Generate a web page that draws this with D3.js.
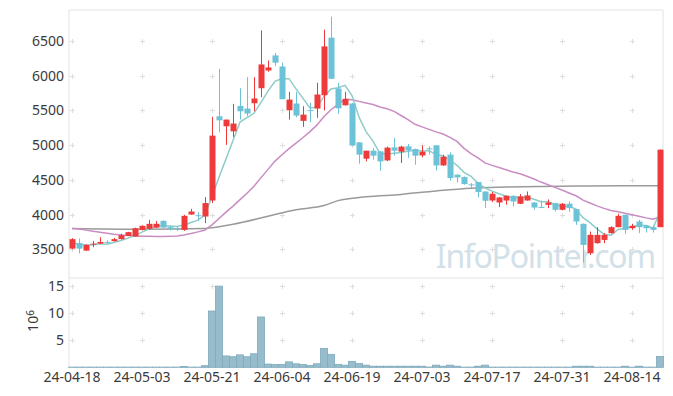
<!DOCTYPE html>
<html>
<head>
<meta charset="utf-8">
<script src="https://cdn.jsdelivr.net/npm/d3@7"></script>
<style>
  body { margin: 0; background: #fff; }
  svg text { font-family: "Noto Sans", "Open Sans", sans-serif; }
</style>
</head>
<body>
<div id="hook-chart"></div>
<script>
'use strict';

var dates = ['24-04-18','24-04-19','24-04-22','24-04-23','24-04-24','24-04-25','24-04-26','24-04-29','24-04-30','24-05-02',
  '24-05-03','24-05-07','24-05-08','24-05-09','24-05-10','24-05-13','24-05-14','24-05-16','24-05-17','24-05-20',
  '24-05-21','24-05-22','24-05-23','24-05-24','24-05-27','24-05-28','24-05-29','24-05-30','24-05-31','24-06-03',
  '24-06-04','24-06-05','24-06-07','24-06-10','24-06-11','24-06-12','24-06-13','24-06-14','24-06-17','24-06-18',
  '24-06-19','24-06-20','24-06-21','24-06-24','24-06-25','24-06-26','24-06-27','24-06-28','24-07-01','24-07-02',
  '24-07-03','24-07-04','24-07-05','24-07-08','24-07-09','24-07-10','24-07-11','24-07-12','24-07-15','24-07-16',
  '24-07-17','24-07-18','24-07-19','24-07-22','24-07-23','24-07-24','24-07-25','24-07-26','24-07-29','24-07-30',
  '24-07-31','24-08-01','24-08-02','24-08-05','24-08-06','24-08-07','24-08-08','24-08-09','24-08-12','24-08-13',
  '24-08-14','24-08-16','24-08-19','24-08-20','24-08-21'];

var opens = [3509,3587,3480,3570,3581,3605,3616,3645,3692,3682,
  3779,3793,3812,3909,3818,3795,3779,4000,3990,3971,
  4202,5416,5272,5199,5566,5527,5604,5820,6076,6293,
  6134,5503,5600,5350,5505,5527,5720,6549,5816,5575,
  5600,5040,4805,4920,4910,4780,4968,4906,4983,4944,
  4852,4954,4997,4708,4863,4574,4540,4435,4468,4332,
  4202,4173,4202,4270,4155,4202,4173,4110,4140,4165,
  4068,4155,4078,3866,3442,3587,3634,3731,3818,3996,
  3803,3899,3841,3818,3818];

var highs = [3659,3653,3570,3620,3673,3630,3663,3725,3750,3810,
  3845,3923,3905,3915,3841,3827,3996,4082,4035,4251,
  5407,6101,5368,5595,5820,5980,5980,6654,6221,6327,
  6188,5769,5769,5561,5610,5899,6664,6852,5899,5769,
  5610,5045,4920,4959,4915,4980,5104,4993,5017,4950,
  4993,4983,5000,4862,4896,4580,4550,4454,4470,4335,
  4324,4250,4275,4275,4295,4332,4178,4202,4217,4170,
  4165,4188,4080,3870,3754,3818,3731,3830,4010,4000,
  3866,3923,3845,3841,4935];

var lows = [3500,3442,3475,3529,3575,3580,3610,3640,3690,3680,
  3770,3779,3805,3805,3769,3765,3765,3996,3909,3876,
  4165,5185,5003,5118,5368,5416,5488,5691,6058,6139,
  5662,5368,5402,5263,5330,5393,5499,5957,5451,5570,
  4990,4733,4766,4790,4631,4770,4848,4743,4815,4718,
  4824,4863,4636,4700,4487,4462,4430,4381,4246,4092,
  4179,4107,4140,4116,4150,4200,4068,4092,4092,4043,
  4060,4039,3851,3306,3418,3580,3587,3725,3815,3721,
  3779,3731,3740,3740,3818];

var closes = [3645,3509,3562,3580,3605,3598,3645,3702,3746,3803,
  3837,3866,3866,3812,3795,3790,3981,4043,3982,4165,
  5137,5358,5368,5311,5488,5455,5672,6163,6120,6188,
  5662,5657,5426,5440,5495,5730,6423,5957,5531,5667,
  4997,4863,4920,4848,4766,4964,4920,4978,4925,4848,
  4906,4944,4708,4834,4526,4535,4439,4425,4324,4198,
  4299,4246,4270,4188,4260,4275,4101,4105,4173,4068,
  4155,4092,3899,3562,3707,3707,3707,3818,3981,3779,
  3837,3818,3803,3779,4935];

// volume, millions of shares
var volumes = [0.03,0.03,0.03,0.03,0.03,0.03,0.03,0.03,0.03,0.03,
  0.03,0.03,0.03,0.03,0.03,0.03,0.15,0.03,0.03,0.3,
  10.4,15.0,2.1,1.95,2.3,1.95,2.5,9.3,0.6,0.5,
  0.5,1.0,0.65,0.5,0.35,0.65,3.5,2.4,0.55,0.4,
  1.1,0.7,0.4,0.2,0.2,0.2,0.2,0.2,0.2,0.2,
  0.2,0.05,0.4,0.2,0.4,0.2,0.03,0.03,0.2,0.4,
  0.03,0.03,0.03,0.03,0.03,0.03,0.03,0.03,0.03,0.03,
  0.03,0.03,0.2,0.2,0.2,0.03,0.03,0.03,0.03,0.2,
  0.03,0.2,0.03,0.03,2.0];

// averages before enough closes are on the chart
var ma5Head = [3590,3575,3560,3565];
var ma20Head = [3800,3790,3775,3760,3745,3730,3715,3705,3698,3692,
  3688,3685,3683,3682,3685,3692,3705,3725,3750];
var ma60Idx = [0,10,19,23,28,32,36,38,42,47,52,57,62,67,72,78,84];
var ma60Val = [3800,3788,3800,3860,3975,4070,4130,4200,4255,4290,4340,4380,4395,4405,4410,4415,4415];

var priceTicks = [3500,4000,4500,5000,5500,6000,6500];
var volTicks = [5,10,15];
var dateTickIdx = [0,10,20,30,40,50,60,70,80];

var W = 673, H = 396,
  plotLeft = 69, plotRight = 663, plotTop = 10, plotSplit = 278, plotBottom = 367.3;

function rolling(n, head) {
  return closes.map(function(c, i) {
    if (i < n - 1) return head[i];
    return d3.mean(closes.slice(i - n + 1, i + 1));
  });
}

var svg = d3.select('#hook-chart')
  .append('svg')
  .attr('width', W)
  .attr('height', H);

var x = d3.scaleLinear().domain([-3/7, 84 + 3/7]).range([plotLeft, plotRight]);
var y = d3.scaleLinear().domain([3085, 6948]).range([plotSplit, plotTop]);
var yv = d3.scaleLinear().domain([0, 16.5]).range([plotBottom, plotSplit]);

// plus-shaped grid marks
function pluses(ys) {
  dateTickIdx.forEach(function(i) {
    ys.forEach(function(py) {
      var px = Math.round(x(i)) + 0.5;
      py = Math.round(py) + 0.5;
      svg.append('path')
        .attr('d', 'M' + (px - 2.5) + ',' + py + 'H' + (px + 2.5) + 'M' + px + ',' + (py - 2.5) + 'V' + (py + 2.5))
        .style('stroke', '#dedede')
        .style('stroke-width', 1)
        .style('fill', 'none');
    });
  });
}
pluses(priceTicks.map(y));
pluses(volTicks.map(yv));

// watermark
svg.append('text')
  .attr('x', 655)
  .attr('y', 268)
  .attr('text-anchor', 'end')
  .style('font-size', '32px')
  .style('letter-spacing', '-1.3px')
  .style('fill', '#d2e0e8')
  .text('InfoPointer.com');

// frame
var frame = [[plotLeft, plotTop, plotLeft, plotBottom], [plotLeft, plotTop, plotRight, plotTop],
  [plotRight, plotTop, plotRight, plotBottom], [plotLeft, plotSplit, plotRight, plotSplit],
  [plotLeft, plotBottom, plotRight, plotBottom]];
frame.forEach(function(f) {
  svg.append('line')
    .attr('x1', f[0]).attr('y1', f[1]).attr('x2', f[2]).attr('y2', f[3])
    .style('stroke', '#e3e3e3')
    .style('stroke-width', 1);
});

// volume bars
svg.append('g').selectAll('rect')
  .data(volumes)
  .enter().append('rect')
  .attr('x', function(d, i) { return x(i) - 3.5; })
  .attr('width', 7)
  .attr('y', function(d) { return yv(d); })
  .attr('height', function(d) { return plotBottom - yv(d); })
  .style('fill', '#97bdcc')
  .style('stroke', '#7eaabd')
  .style('stroke-width', 0.8);

// moving averages
var ma5 = rolling(5, ma5Head);
var ma20 = rolling(20, ma20Head);

var line = d3.line()
  .x(function(d) { return x(d[0]); })
  .y(function(d) { return y(d[1]); });

svg.append('path')
  .datum(ma60Idx.map(function(i, k) { return [i, ma60Val[k]]; }))
  .attr('d', line.curve(d3.curveMonotoneX))
  .style('fill', 'none')
  .style('stroke', '#9a9a9a')
  .style('stroke-width', 1.5);

line.curve(d3.curveLinear);
svg.append('path')
  .datum(ma20.map(function(v, i) { return [i, v]; }))
  .attr('d', line)
  .style('fill', 'none')
  .style('stroke', '#c98cc3')
  .style('stroke-width', 1.5);

svg.append('path')
  .datum(ma5.map(function(v, i) { return [i, v]; }))
  .attr('d', line)
  .style('fill', 'none')
  .style('stroke', '#8ecdc8')
  .style('stroke-width', 1.5);

// candles
var candles = svg.append('g');
closes.forEach(function(c, i) {
  var o = opens[i], up = c >= o;
  var col = up ? '#ee3a3a' : '#6cc2d7';
  var cx = Math.round(x(i)) + 0.5;
  candles.append('line')
    .attr('x1', cx).attr('x2', cx)
    .attr('y1', y(highs[i])).attr('y2', y(lows[i]))
    .style('stroke', col)
    .style('stroke-width', 1);
  var yt = y(Math.max(o, c)), yb = y(Math.min(o, c));
  candles.append('rect')
    .attr('x', cx - 3)
    .attr('width', 6)
    .attr('y', yt)
    .attr('height', Math.max(1, yb - yt))
    .style('fill', col);
});

// axis labels
svg.append('g').selectAll('text')
  .data(priceTicks)
  .enter().append('text')
  .attr('x', 64)
  .attr('y', function(d) { return y(d); })
  .attr('dy', '0.36em')
  .attr('text-anchor', 'end')
  .style('font-size', '14px')
  .style('fill', '#3a3a3a')
  .text(function(d) { return d; });

svg.append('g').selectAll('text')
  .data(volTicks)
  .enter().append('text')
  .attr('x', 64)
  .attr('y', function(d) { return yv(d); })
  .attr('dy', '0.36em')
  .attr('text-anchor', 'end')
  .style('font-size', '14px')
  .style('fill', '#3a3a3a')
  .text(function(d) { return d; });

svg.append('g').selectAll('text')
  .data(dateTickIdx)
  .enter().append('text')
  .attr('x', function(d) { return x(d); })
  .attr('y', 382)
  .attr('text-anchor', 'middle')
  .style('font-size', '14px')
  .style('fill', '#3a3a3a')
  .text(function(d) { return dates[d]; });

var unit = svg.append('text')
  .attr('transform', 'translate(38,321) rotate(-90)')
  .attr('text-anchor', 'middle')
  .style('font-size', '14px')
  .style('fill', '#3a3a3a');
unit.append('tspan').text('10');
unit.append('tspan').attr('dy', '-0.45em').style('font-size', '10px').text('6');
</script>
</body>
</html>
